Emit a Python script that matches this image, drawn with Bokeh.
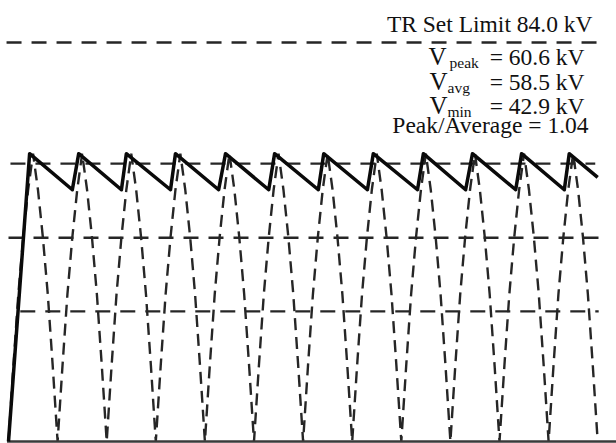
from bokeh.plotting import figure
from bokeh.models import Range1d, Label
from bokeh.embed import file_html
from bokeh.resources import INLINE

# ---- data (time in ms, voltage in kV) ----
# charging peaks and discharge troughs of the output voltage
peak_t = [4.3, 14.3, 24.0, 34.0, 44.2, 54.2, 64.2, 74.3, 84.5, 94.5, 104.5, 114.2]
trough_t = [13.0, 23.0, 33.0, 42.8, 53.0, 63.1, 73.1, 83.3, 93.1, 103.3, 113.2]
v_peak = 60.6
v_trough = 53.0
start_t = 0.0
end_t = 120.0
end_kv = 55.6

# rectified supply half-cycles: start time of each, and the shape of one half-cycle
cusp_t = [0, 10, 20, 30, 40, 50, 60, 70, 80, 90, 100, 110]
half_offset = [0, 1, 2, 3, 4, 5, 6, 7, 8, 9, 10]
half_kv = [0, 16, 31, 43, 53, 60.6, 53, 43, 31, 16, 0]

# reference levels
set_limit = 84.0
v_avg = 58.5
v_min = 42.9
v_low = 27.4
peak_to_avg = 1.04

# ---- figure ----
PX_PER_MS = 4.91
PX_PER_KV = 4.75
p = figure(width=616, height=443, output_backend="svg", toolbar_location=None,
           x_range=Range1d(-8 / PX_PER_MS, (616 - 8) / PX_PER_MS),
           y_range=Range1d(-2 / PX_PER_KV, 441 / PX_PER_KV),
           min_border=0, x_axis_type=None, y_axis_type=None)
p.grid.visible = False
p.outline_line_color = None
p.background_fill_color = "white"
p.border_fill_color = "white"

dash_col = "#262626"

# horizontal reference lines: level, start, end
ref_levels = [set_limit, v_avg, v_min, v_low]
ref_start = [-0.4, 0.4, 0.0, 2.4]
ref_end = [121.0, 119.5, 121.2, 120.2]
p.segment(x0=ref_start, y0=ref_levels, x1=ref_end, y1=ref_levels,
          line_color=dash_col, line_width=2.4, line_dash="15 10")

# rectified supply waveform (dashed)
sx, sy = [], []
for c in cusp_t:
    for o, k in zip(half_offset, half_kv):
        if sx and sx[-1] == c + o:
            continue
        sx.append(c + o)
        sy.append(k)
p.line(sx, sy, line_color=dash_col, line_width=2.4, line_dash="12 7")

# baseline
p.line([-0.3, 124.0], [0, 0], line_color="#3a3a3a", line_width=2.4)

# output voltage (solid)
vx = [start_t, peak_t[0]]
vy = [0.0, v_peak]
for tt, tp in zip(trough_t, peak_t[1:]):
    vx += [tt, tp]
    vy += [v_trough, v_peak]
vx.append(end_t)
vy.append(end_kv)
p.line(vx, vy, line_color="#0a0a0a", line_width=3.5, line_join="round")

# ---- annotation text ----
FONT = "Liberation Serif"
H = 443
LIFT = 7  # label baseline correction in screen px


def txt(s, x, base, size="23.5px", align="left"):
    p.add_layout(Label(x=x, y=H - base + LIFT, x_units="screen", y_units="screen", text=s,
                       text_font=FONT, text_font_size=size, text_color="#111111",
                       text_align=align, text_baseline="alphabetic"))


txt(f"TR Set Limit {set_limit:.1f} kV", 592, 30, align="right")

rows = [("peak", v_peak, 428, 449, 63), ("avg", v_avg, 429, 447, 88), ("min", v_min, 429, 447, 112)]
for sub, val, xv, xs, base in rows:
    txt("V", xv, base, size="25px")
    txt(sub, xs, base + 5.5, size="15.5px")
    txt(f"= {val:.1f} kV", 584, base, align="right")

txt(f"Peak/Average = {peak_to_avg:.2f}", 588, 131, align="right")

open("out.html", "w").write(file_html(p, INLINE))
